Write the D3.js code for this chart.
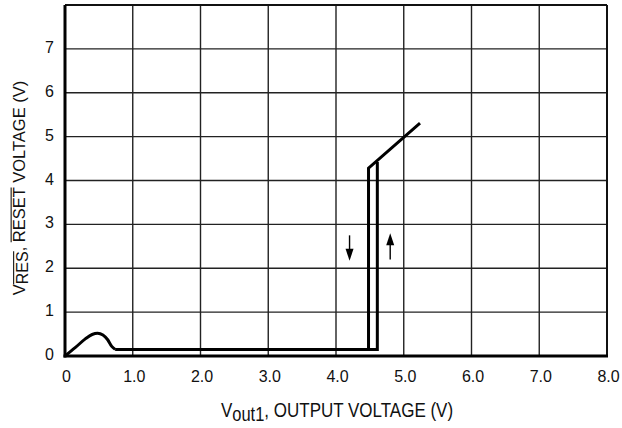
<!DOCTYPE html>
<html>
<head>
<meta charset="utf-8">
<script src="https://cdn.jsdelivr.net/npm/d3@7"></script>
<style>
  html, body { margin: 0; padding: 0; background: #fff; }
  svg { display: block; font-family: "Liberation Sans", Arial, sans-serif; }
</style>
</head>
<body>
<svg id="chart" width="622" height="428"></svg>
<script>
// Reset output vs. monitored output voltage (hysteresis loop)
const xTicks = [0, 1, 2, 3, 4, 5, 6, 7, 8];
const xTickLabels = ["0", "1.0", "2.0", "3.0", "4.0", "5.0", "6.0", "7.0", "8.0"];
const yTicks = [0, 1, 2, 3, 4, 5, 6, 7];
const yGrid = [1, 2, 3, 4, 5, 6, 7];

// Rising Vout1 trace: start-up hump, low level, trip at 4.61 V
const risingX = [0, 0.15, 0.3, 0.4, 0.48, 0.56, 0.63, 0.69, 0.74, 4.61, 4.61];
const risingY = [0, 0.19, 0.39, 0.49, 0.52, 0.48, 0.37, 0.22, 0.15, 0.15, 4.42];
// Falling Vout1 trace: follows output, drops at 4.48 V
const fallingX = [5.24, 4.48, 4.48];
const fallingY = [5.31, 4.28, 0.15];

// Direction arrows [x, yStart, yEnd]
const arrows = [[4.2, 2.75, 2.17], [4.8, 2.2, 2.8]];

const svg = d3.select("#chart");
const m = { left: 65, top: 5, right: 607, bottom: 356 };

const x = d3.scaleLinear().domain([0, 8]).range([m.left, m.right]);
const y = d3.scaleLinear().domain([0, 8]).range([m.bottom, m.top]);

const g = svg.append("g");

// grid
g.selectAll(".vg").data(xTicks.slice(1, -1)).join("line")
  .attr("x1", d => x(d)).attr("x2", d => x(d))
  .attr("y1", m.top).attr("y2", m.bottom)
  .attr("stroke", "#222").attr("stroke-width", 1.4);
g.selectAll(".hg").data(yGrid).join("line")
  .attr("x1", m.left).attr("x2", m.right)
  .attr("y1", d => y(d)).attr("y2", d => y(d))
  .attr("stroke", "#222").attr("stroke-width", 1.4);

// frame
g.append("line").attr("x1", m.left).attr("x2", m.right).attr("y1", m.top).attr("y2", m.top)
  .attr("stroke", "#111").attr("stroke-width", 1.8);
g.append("line").attr("x1", m.right).attr("x2", m.right).attr("y1", m.top).attr("y2", m.bottom)
  .attr("stroke", "#111").attr("stroke-width", 2);

// axes
const xAxis = d3.axisBottom(x).tickValues(xTicks).tickSize(0)
  .tickFormat((d, i) => xTickLabels[i]).tickPadding(15);
const yAxis = d3.axisLeft(y).tickValues(yTicks).tickSize(0).tickPadding(11);

const xa = svg.append("g").attr("transform", `translate(1,${m.bottom})`).call(xAxis);
const ya = svg.append("g").attr("transform", `translate(${m.left},0)`).call(yAxis);
[xa, ya].forEach(a => {
  a.attr("font-size", 16).attr("font-family", "Liberation Sans, Arial, sans-serif");
  a.select(".domain").remove();
  a.selectAll("text").attr("fill", "#111");
});
ya.selectAll("text").attr("dy", "0.22em");

svg.append("line").attr("x1", m.left).attr("x2", m.left).attr("y1", m.top).attr("y2", m.bottom + 1.5)
  .attr("stroke", "#000").attr("stroke-width", 3);
svg.append("line").attr("x1", m.left - 1.5).attr("x2", m.right + 1).attr("y1", m.bottom).attr("y2", m.bottom)
  .attr("stroke", "#000").attr("stroke-width", 3);

// traces
const line = d3.line().x(d => x(d[0])).y(d => y(d[1]));
const hump = d3.line().x(d => x(d[0])).y(d => y(d[1])).curve(d3.curveMonotoneX);

const rising = risingX.map((v, i) => [v, risingY[i]]);
const falling = fallingX.map((v, i) => [v, fallingY[i]]);

svg.append("path").attr("d", hump(rising.slice(0, 9)))
  .attr("fill", "none").attr("stroke", "#000").attr("stroke-width", 3).attr("stroke-linejoin", "round");
svg.append("path").attr("d", line(rising.slice(8)))
  .attr("fill", "none").attr("stroke", "#000").attr("stroke-width", 3).attr("stroke-linejoin", "miter");
svg.append("path").attr("d", line(falling))
  .attr("fill", "none").attr("stroke", "#000").attr("stroke-width", 3).attr("stroke-linejoin", "miter");

// arrows
arrows.forEach(([ax, y0, y1]) => {
  const dir = Math.sign(y(y1) - y(y0));
  const tipY = y(y1);
  svg.append("line").attr("x1", x(ax)).attr("x2", x(ax))
    .attr("y1", y(y0)).attr("y2", tipY - dir * 6)
    .attr("stroke", "#000").attr("stroke-width", 1.4);
  svg.append("path")
    .attr("d", `M${x(ax)},${tipY} L${x(ax) - 4},${tipY - dir * 12} L${x(ax) + 4},${tipY - dir * 12} Z`)
    .attr("fill", "#000");
});

// x label
const xl = svg.append("text").attr("transform", "translate(337,417) scale(1,1.18)")
  .attr("text-anchor", "middle").attr("font-size", 17).attr("fill", "#111");
xl.append("tspan").text("V");
xl.append("tspan").attr("font-size", 16.5).attr("dy", 3.5).text("out1");
xl.append("tspan").attr("dy", -3.5).text(", OUTPUT VOLTAGE (V)");

// y label
const yPos = "translate(25,188) rotate(-90)";
const yl = svg.append("text").attr("transform", yPos)
  .attr("text-anchor", "middle").attr("font-size", 16.5).attr("fill", "#111");
yl.append("tspan").text("V");
yl.append("tspan").attr("font-size", 16).attr("dy", 2.5).attr("class", "ov").text("RES");
yl.append("tspan").attr("dy", -2.5).text(", ");
yl.append("tspan").attr("class", "ov").text("RESET");
yl.append("tspan").text(" VOLTAGE (V)");

// overlines above the active-low signal names
(function () {
  const ylNode = yl.node();
  const spans = yl.selectAll("tspan").nodes();
  let idx = 0;
  const marks = [];
  spans.forEach(s => {
    const n = s.textContent.length;
    if (s.classList.contains("ov")) {
      const a = ylNode.getStartPositionOfChar(idx);
      const b = ylNode.getEndPositionOfChar(idx + n - 1);
      marks.push([a.x, b.x, a.y - 16.5 * 0.84]);
    }
    idx += n;
  });
  const og = svg.append("g").attr("transform", yPos);
  marks.forEach(([x0, x1, ty]) => {
    og.append("line").attr("x1", x0).attr("x2", x1).attr("y1", ty).attr("y2", ty)
      .attr("stroke", "#111").attr("stroke-width", 1.1);
  });
})();
</script>
</body>
</html>
